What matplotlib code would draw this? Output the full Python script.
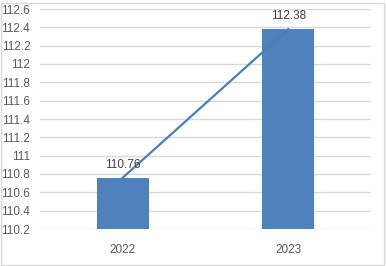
import matplotlib
matplotlib.use("Agg")
import matplotlib.pyplot as plt
from matplotlib.patches import Rectangle

# chart data
years = ["2022", "2023"]
values = [110.76, 112.38]
y_ticks = [110.2, 110.4, 110.6, 110.8, 111, 111.2, 111.4, 111.6, 111.8, 112, 112.2, 112.4, 112.6]

bar_color = "#4f81bd"
line_color = "#4a7ebb"
grid_color = "#d9d9d9"
text_color = "#595959"

plt.rcParams["font.family"] = ["Liberation Sans", "DejaVu Sans"]

fig = plt.figure(figsize=(3.86, 2.66), dpi=100)
ax = fig.add_axes([40 / 386, 1 - 229 / 266, 331 / 386, 220 / 266])

x = list(range(len(years)))
ax.bar(x, [v - y_ticks[0] for v in values], bottom=y_ticks[0], width=0.315,
       color=bar_color, zorder=2)
ax.plot(x, values, color=line_color, linewidth=1.6, zorder=3)

for xi, v in zip(x, values):
    ax.annotate(f"{v:.2f}", (xi, v), xytext=(0, 5), textcoords="offset points",
                ha="center", va="bottom", fontsize=8.5, color="#404040", zorder=4)

ax.set_xlim(-0.5, len(years) - 0.5)
ax.set_ylim(y_ticks[0], y_ticks[-1])
ax.set_yticks(y_ticks)
ax.set_yticklabels([f"{t:g}" for t in y_ticks])
ax.set_xticks(x)
ax.set_xticklabels(years)
ax.tick_params(axis="both", length=0, labelsize=8.5, colors=text_color)
ax.tick_params(axis="y", pad=7)
ax.tick_params(axis="x", pad=11)
ax.grid(axis="y", color=grid_color, linewidth=1, zorder=0)
for s in ax.spines.values():
    s.set_visible(False)

# outer chart border
fig.patches.append(Rectangle((1 / 386, 1 / 266), 383 / 386, 262 / 266,
                             transform=fig.transFigure, fill=False,
                             edgecolor=grid_color, linewidth=1))

fig.savefig("out.png", dpi=100)
